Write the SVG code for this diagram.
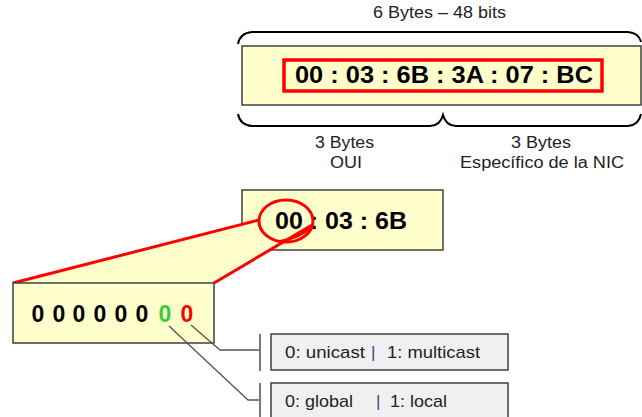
<svg xmlns="http://www.w3.org/2000/svg" width="642" height="417" viewBox="0 0 642 417">
  <style>
    .hex { fill: #FFFFCC; stroke: #404040; stroke-width: 1.5; }
    .opt { fill: #F0F0F0; stroke: #404040; stroke-width: 1.5; }
    .brace { fill: none; stroke: #000; stroke-width: 2; }
    .red { fill: none; stroke: #FF0000; stroke-width: 3; }
    .lead { fill: none; stroke: #555; stroke-width: 1.3; }
    .bar { fill: none; stroke: #555; stroke-width: 1.6; }
    .lbl { font-family: "Liberation Sans", Arial, sans-serif; font-size: 16px; fill: #222; }
    .big { font-family: "Liberation Sans", Arial, sans-serif; font-size: 23px; font-weight: bold; fill: #000; }
    .opttxt { font-family: "Liberation Sans", Arial, sans-serif; font-size: 17px; fill: #222; }
    .sep { fill: #2A4A8A; }
  </style>

  <rect width="642" height="417" fill="#FFFFFF"/>

  <!-- full 48-bit address -->
  <g id="mac-full">
    <text class="lbl" x="373" y="18" textLength="133" lengthAdjust="spacingAndGlyphs">6 Bytes – 48 bits</text>
    <path class="brace" d="M238,44 Q240,33 252,32 H628 Q639,33 641,42"/>
    <rect class="hex" x="242" y="46" width="399" height="59"/>
    <rect x="284" y="60" width="318" height="31" fill="none" stroke="#FF0000" stroke-width="3.5"/>
    <text class="big" x="295" y="83" textLength="298" lengthAdjust="spacingAndGlyphs">00 : 03 : 6B : 3A : 07 : BC</text>
    <path class="brace" d="M238,114 Q240,125 252,126 H430 Q440,126 443,115 Q446,126 456,126 H628 Q639,125 641,114"/>
    <text class="lbl" x="315" y="148" textLength="59" lengthAdjust="spacingAndGlyphs">3 Bytes</text>
    <text class="lbl" x="330" y="168" textLength="32" lengthAdjust="spacingAndGlyphs">OUI</text>
    <text class="lbl" x="511" y="148" textLength="60" lengthAdjust="spacingAndGlyphs">3 Bytes</text>
    <text class="lbl" x="460" y="168" textLength="164" lengthAdjust="spacingAndGlyphs">Específico de la NIC</text>
  </g>

  <!-- OUI part -->
  <g id="oui">
    <rect class="hex" x="242" y="190" width="201" height="60"/>
    <text class="big" x="275" y="229" textLength="132" lengthAdjust="spacingAndGlyphs">00 : 03 : 6B</text>
  </g>

  <!-- zoom wedge from the first byte to its bits -->
  <g id="zoom-wedge">
    <polygon points="13,283 259,220 285,242 312,225 214,283" fill="#FFFFCC"/>
    <ellipse class="red" cx="286" cy="221" rx="27" ry="21"/>
    <path class="red" d="M13,283 L259,220"/>
    <path class="red" d="M214,283 L312,225"/>
    <path class="red" d="M278,242 Q300,238 312,226" stroke-width="2.5"/>
  </g>

  <!-- first byte, bit by bit -->
  <g id="first-byte">
    <rect class="hex" x="13" y="283" width="201" height="60"/>
    <text class="big" y="322" text-anchor="middle" font-size="22">
      <tspan x="38">0</tspan><tspan x="59">0</tspan><tspan x="79">0</tspan><tspan x="100">0</tspan><tspan x="121">0</tspan><tspan x="142">0</tspan><tspan x="165" fill="#33CC33">0</tspan><tspan x="187" fill="#FF0000">0</tspan>
    </text>
  </g>

  <!-- leader lines from the two low bits -->
  <g id="connectors">
    <polyline class="lead" points="191,325 220,350 259,350"/>
    <polyline class="lead" points="169,326 248,400 259,400"/>
    <line class="bar" x1="260" y1="334" x2="260" y2="371"/>
    <line class="bar" x1="260" y1="383" x2="260" y2="417"/>
  </g>

  <g id="cast-bit">
    <rect class="opt" x="271" y="334" width="237" height="36"/>
    <text class="opttxt" y="358">
      <tspan x="285" textLength="80" lengthAdjust="spacingAndGlyphs">0: unicast</tspan>
      <tspan class="sep" x="371">|</tspan>
      <tspan x="387" textLength="93" lengthAdjust="spacingAndGlyphs">1: multicast</tspan>
    </text>
  </g>

  <g id="scope-bit">
    <rect class="opt" x="271" y="383" width="237" height="40"/>
    <text class="opttxt" y="407">
      <tspan x="285" textLength="68" lengthAdjust="spacingAndGlyphs">0: global</tspan>
      <tspan class="sep" x="376">|</tspan>
      <tspan x="390" textLength="57" lengthAdjust="spacingAndGlyphs">1: local</tspan>
    </text>
  </g>
</svg>
